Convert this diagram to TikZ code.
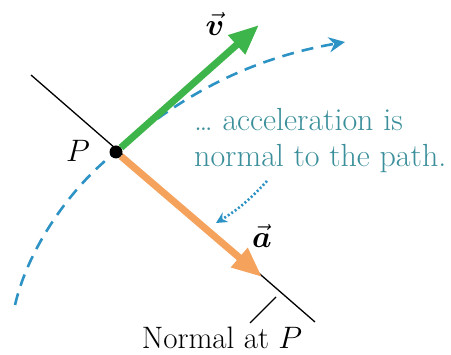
\RequirePackage{fix-cm}
\documentclass[tikz,border=0pt]{standalone}
\usepackage{amsmath,bm}
\usepackage{fontspec}
\usetikzlibrary{arrows.meta}
\definecolor{velGreen}{HTML}{3DB54A}
\definecolor{accOrange}{HTML}{F4A25C}
\definecolor{pathBlue}{HTML}{2D92C4}
\definecolor{noteTeal}{HTML}{3B8F9B}

\begin{document}
\begin{tikzpicture}[x=1pt, y=-1pt,
      vecarrow/.style={draw=#1, line width=7pt,
                       -{Triangle[length=30pt,width=24pt]}},
      pathline/.style={pathBlue, line width=2.6pt, dash pattern=on 12pt off 8pt,
                       -{Stealth[length=16pt,width=15pt]}},
      dotarrow/.style={pathBlue, line width=2.6pt, dash pattern=on 2pt off 2.2pt,
                       -{Stealth[length=11pt,width=11pt]}},
      dot/.style={circle, fill=black, minimum size=13pt, inner sep=0pt},
      lbl/.style={font=\fontsize{31}{36}\selectfont, inner sep=0pt},
      note/.style={font=\fontsize{32}{36}\selectfont, text=noteTeal,
                   align=left, inner sep=0pt}]
    \useasboundingbox (0,0) rectangle (451,355);
    % normal line and path
    \coordinate (Ppos) at (116,152);
    \coordinate (nTop) at (31,75);
    \coordinate (nEnd) at (315,322);
    \coordinate (pStart) at (15,305);
    \coordinate (pEnd) at (345,42);
    \draw[line width=1.3pt] (nTop) -- (nEnd);
    \draw[pathline] (pStart) .. controls (29,245) and (74,184) .. (Ppos)
                             .. controls (198,79) and (276,54) .. (pEnd);
    % point P
    \node[dot] (P) at (Ppos) {};
    \node[lbl] (Plbl) at (78,151) {$P$};
    % velocity and acceleration
    \coordinate (vTip) at (259,25);
    \coordinate (aTip) at (262,277);
    \draw[vecarrow=accOrange] (P) -- (aTip);
    \draw[vecarrow=velGreen] (P) -- (vTip);
    \node[lbl] (vlbl) at (215,24) {$\vec{\bm v}$};
    \node[lbl] (albl) at (262,236) {$\vec{\bm a}$};
    % note
    \node[note, anchor=north west] (note) at (194,108)
      {\ldots\ acceleration is\\normal to the path.};
    \coordinate (dotS) at (267,181);
    \coordinate (dotE) at (216,223);
    \draw[dotarrow] (dotS) to[bend left=8] (dotE);
    % normal label
    \node[lbl] (nlbl) at (222,338) {Normal at $P$};
    \coordinate (lead1) at (250,323);
    \coordinate (lead2) at (276,297);
    \draw[line width=1.2pt] (lead1) -- (lead2);
  \end{tikzpicture}
\end{document}
